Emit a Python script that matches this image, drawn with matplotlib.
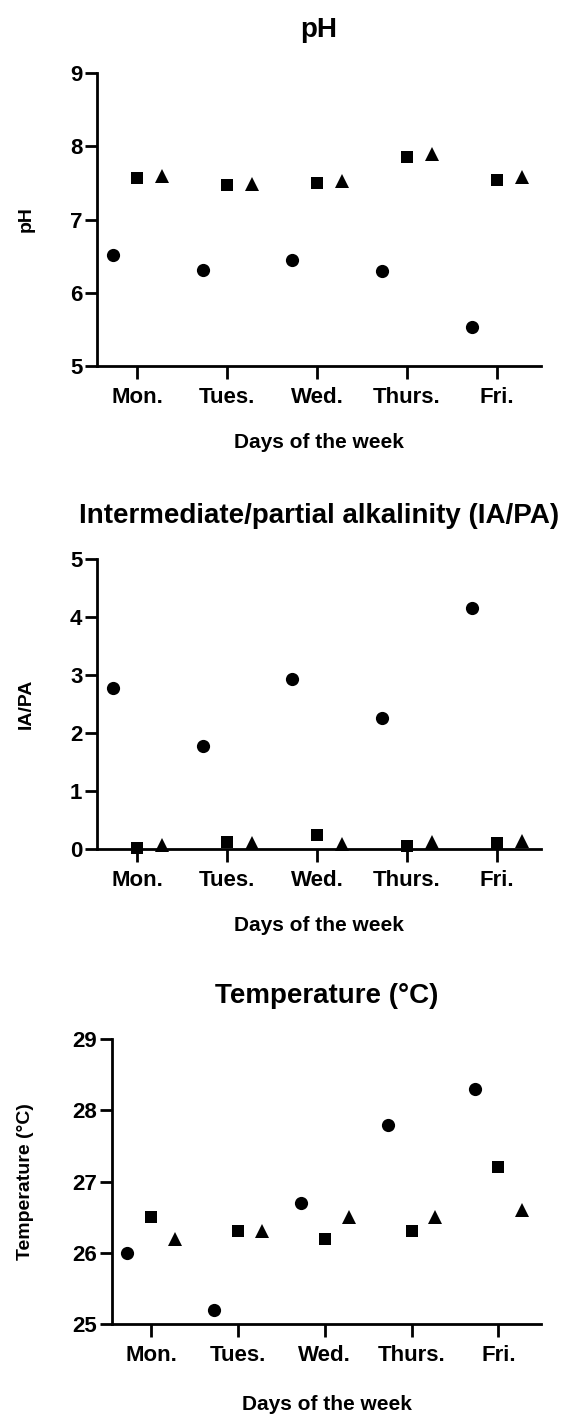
import numpy as np
import matplotlib
matplotlib.use("Agg")
import matplotlib.pyplot as plt

plt.rcParams['font.family'] = ['Liberation Sans', 'DejaVu Sans']
plt.rcParams['font.weight'] = 'bold'

# donnees
jours = ['Mon.', 'Tues.', 'Wed.', 'Thurs.', 'Fri.']

ph_rond = [6.52, 6.31, 6.45, 6.30, 5.53]
ph_carre = [7.57, 7.47, 7.50, 7.85, 7.54]
ph_triangle = [7.60, 7.48, 7.52, 7.90, 7.58]

iapa_rond = [2.77, 1.77, 2.93, 2.26, 4.16]
iapa_carre = [0.02, 0.12, 0.24, 0.05, 0.11]
iapa_triangle = [0.07, 0.10, 0.09, 0.12, 0.13]

temp_rond = [26.0, 25.2, 26.7, 27.8, 28.3]
temp_carre = [26.5, 26.3, 26.2, 26.3, 27.2]
temp_triangle = [26.2, 26.3, 26.5, 26.5, 26.6]

W, H = 562, 1416
fig = plt.figure(figsize=(W / 100, H / 100), dpi=100)


def px(x, y):
    return x / W, 1 - y / H


def graphe(gauche, droite, haut, bas, rond, carre, tri, yticks, titre, ylabel,
           y_titre, y_xlabel):
    ax = fig.add_axes([gauche / W, 1 - bas / H, (droite - gauche) / W, (bas - haut) / H])
    x = np.arange(len(jours))
    d = 0.275
    ax.plot(x - d, rond, 'o', color='black', ms=9.5, mew=0, clip_on=False)
    ax.plot(x, carre, 's', color='black', ms=9, mew=0, clip_on=False)
    ax.plot(x + d, tri, '^', color='black', ms=9.5, mew=0, clip_on=False)

    ax.set_xlim(-0.45, 4.49)
    ax.set_ylim(yticks[0], yticks[-1])
    ax.set_xticks(x)
    ax.set_xticklabels(jours)
    ax.set_yticks(yticks)
    for s in ['top', 'right']:
        ax.spines[s].set_visible(False)
    for s in ['left', 'bottom']:
        ax.spines[s].set_linewidth(2)
    ax.tick_params(axis='x', length=9, width=2, pad=6, labelsize=16)
    ax.tick_params(axis='y', length=9, width=2, pad=1.5, labelsize=16)

    xc = (gauche + droite) / 2
    fig.text(*px(xc, y_titre), titre, ha='center', va='baseline', fontsize=20, fontweight='bold')
    fig.text(*px(xc, y_xlabel), 'Days of the week', ha='center', va='baseline', fontsize=15, fontweight='bold')
    fig.text(*px(26, (haut + bas) / 2), ylabel, ha='center', va='center', rotation=90,
             fontsize=14, fontweight='bold')
    return ax


graphe(97, 541, 73, 366, ph_rond, ph_carre, ph_triangle, [5, 6, 7, 8, 9],
       'pH', 'pH', 37, 448)
graphe(97, 541, 559, 849, iapa_rond, iapa_carre, iapa_triangle, [0, 1, 2, 3, 4, 5],
       'Intermediate/partial alkalinity (IA/PA)', 'IA/PA', 523, 931)
graphe(112, 541, 1039, 1324, temp_rond, temp_carre, temp_triangle, [25, 26, 27, 28, 29],
       'Temperature (°C)', 'Temperature (°C)', 1003, 1410)

fig.savefig('out.png', dpi=100)
